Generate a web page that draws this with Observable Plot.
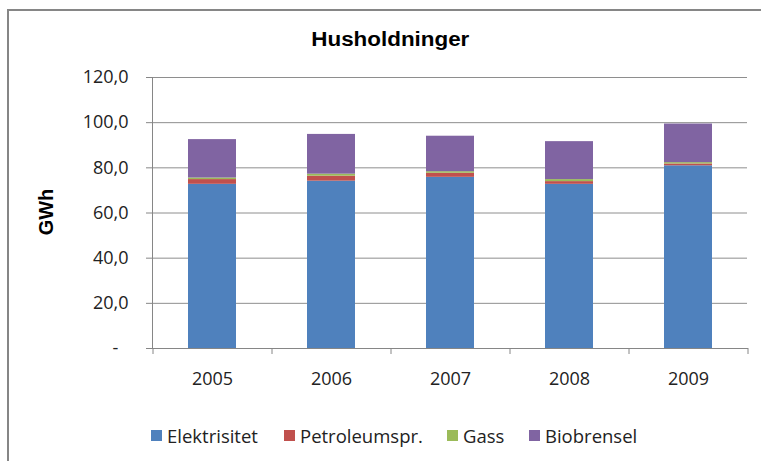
<!DOCTYPE html>
<html>
<head>
<meta charset="utf-8">
<script src="https://cdn.jsdelivr.net/npm/d3@7"></script>
<script src="https://cdn.jsdelivr.net/npm/@observablehq/plot@0.6"></script>
<style>
  body { margin: 0; background: #fff; }
  #wrap { position: relative; width: 761px; height: 461px; overflow: hidden; background: #fff; }
  #border { position: absolute; left: 7px; top: 9px; width: 820px; height: 520px; border: 2px solid #868686; box-sizing: border-box; pointer-events: none; }
  #title { position: absolute; left: 0; width: 781px; top: 28px; text-align: center; font: bold 20px "Liberation Sans", Arial, sans-serif; color: #000; transform: scaleX(1.12); transform-origin: 392px 0; }
  #ylabel { position: absolute; left: 46px; top: 212px; transform: translate(-50%, -50%) rotate(-90deg); font: bold 20px "Liberation Sans", Arial, sans-serif; color: #000; white-space: nowrap; }
  #legend { position: absolute; left: 0; top: 423px; width: 761px; height: 26px; font: 18.5px "Open Sans", sans-serif; color: #222; white-space: nowrap; }
  #legend .item { position: absolute; top: 0; display: flex; align-items: center; }
  #legend .sw { width: 11px; height: 11px; margin-right: 5px; }
  #chart { position: absolute; left: 0; top: 0; }
</style>
</head>
<body>
<div id="wrap">
  <div id="chart"></div>
  <div id="title">Husholdninger</div>
  <div id="ylabel">GWh</div>
  <div id="legend"></div>
  <div id="border"></div>
</div>
<script>
const years = ["2005", "2006", "2007", "2008", "2009"];
const series = ["Elektrisitet", "Petroleumspr.", "Gass", "Biobrensel"];
const colors = ["#4F81BD", "#C0504D", "#9BBB59", "#8064A2"];
const elektrisitet = [72.7, 74.1, 75.8, 72.7, 80.9];
const petroleumspr = [2.1, 2.2, 1.8, 1.2, 0.8];
const gass = [0.7, 0.9, 0.7, 0.9, 0.6];
const biobrensel = [17.0, 17.6, 15.7, 16.8, 17.1];
const yTicks = [0, 20, 40, 60, 80, 100, 120];

const valuesBySeries = [elektrisitet, petroleumspr, gass, biobrensel];
const data = [];
series.forEach((s, si) => {
  years.forEach((y, yi) => data.push({year: y, series: s, value: valuesBySeries[si][yi]}));
});

const W = 761, H = 461;
const mL = 152, mR = 14, mT = 77, mB = 113;
const step = (W - mL - mR) / years.length;
const legendLeft = [151, 284, 447, 529];

const fmt = d => d === 0 ? "-\u2007" : d.toFixed(1).replace(".", ",");

const chart = Plot.plot({
  width: W, height: H,
  marginLeft: mL, marginRight: mR, marginTop: mT, marginBottom: mB,
  style: {background: "transparent", fontFamily: "Open Sans, sans-serif"},
  x: {domain: years, paddingInner: 0.6, paddingOuter: 0.3, align: 0.5},
  y: {domain: [0, 120]},
  color: {domain: series, range: colors},
  marks: [
    Plot.gridY(yTicks, {stroke: "#8e8e8e", strokeOpacity: 1}),
    Plot.barY(data, Plot.stackY({order: series}, {x: "year", y: "value", z: "series", fill: "series"})),
    Plot.frame({anchor: "left", stroke: "#868686"}),
    Plot.frame({anchor: "bottom", stroke: "#868686"}),
    Plot.ruleX(years, {x: d => d, y1: 0, y2: 0, dx: -step / 2, insetBottom: -6, stroke: "#868686"}),
    Plot.ruleX(years.slice(-1), {x: d => d, y1: 0, y2: 0, dx: step / 2, insetBottom: -6, stroke: "#868686"}),
    Plot.axisY({ticks: yTicks, tickFormat: fmt, tickSize: 6, tickPadding: 18, fontSize: 18, stroke: "#868686", fill: "#222", label: null}),
    Plot.axisX({tickSize: 0, tickPadding: 24, fontSize: 18, fill: "#222", label: null})
  ]
});
document.getElementById("chart").appendChild(chart);

const legend = document.getElementById("legend");
series.forEach((s, i) => {
  const item = document.createElement("div");
  item.className = "item";
  item.style.left = legendLeft[i] + "px";
  const sw = document.createElement("div");
  sw.className = "sw";
  sw.style.background = colors[i];
  const t = document.createElement("span");
  t.textContent = s;
  item.appendChild(sw);
  item.appendChild(t);
  legend.appendChild(item);
});
</script>
</body>
</html>
